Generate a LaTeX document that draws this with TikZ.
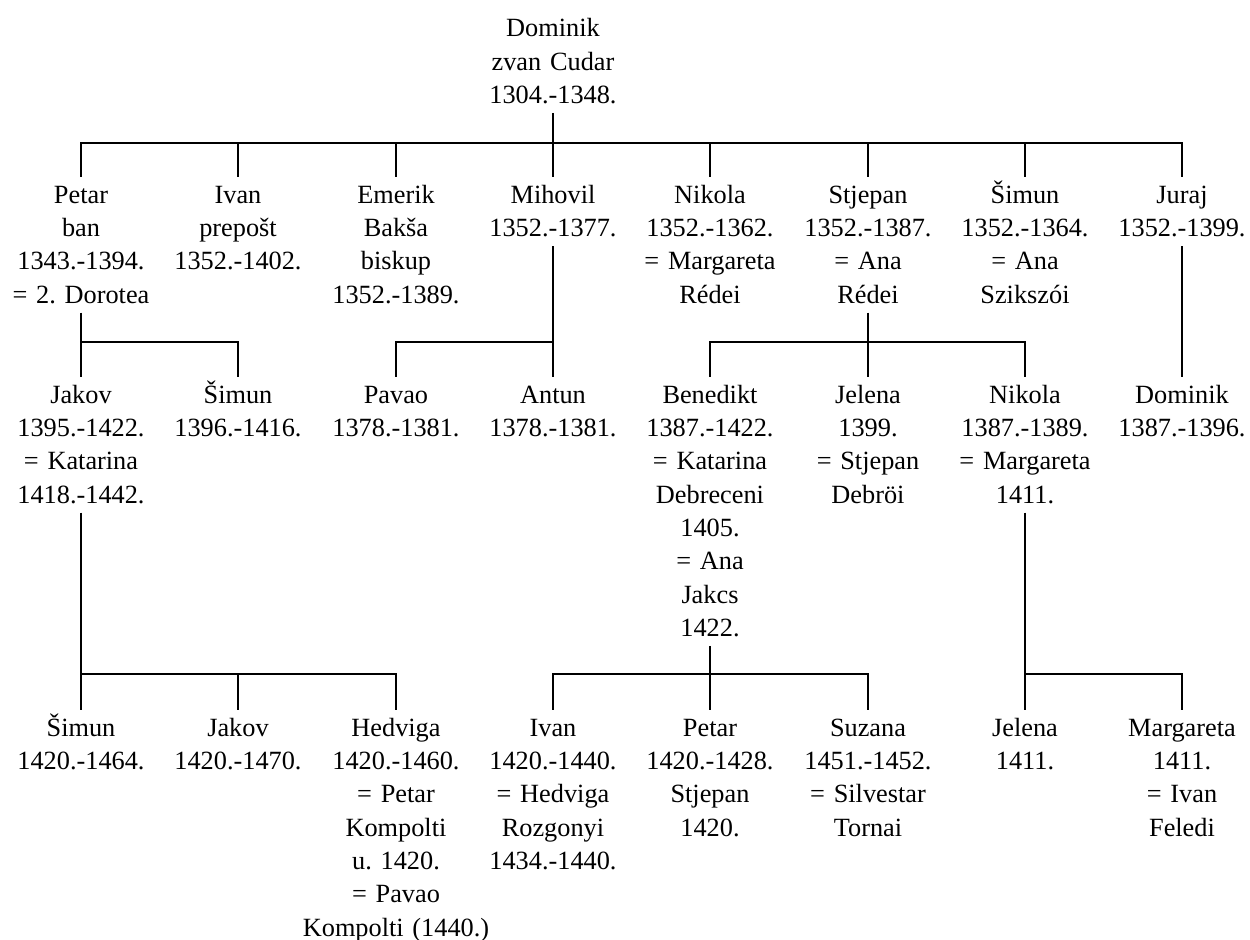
\documentclass[tikz,border=0pt]{standalone}
\usepackage{fontspec}
\setmainfont{Liberation Serif}
\usepackage{tikz}
\usetikzlibrary{positioning, calc}
\frenchspacing

\begin{document}
\begin{tikzpicture}[
    x=0.5pt, y=-0.5pt,
    person/.style={anchor=north, align=center, text width=100pt, inner sep=0pt, font=\fontsize{13.15pt}{16.65pt}\selectfont,
        execute at begin node={\rule{0pt}{13pt}}, execute at end node={\rule[-4.5pt]{0pt}{4.5pt}}},
    link/.style={line width=1pt, color=black}
    ]
    \useasboundingbox (0,0) rectangle (1250,940);

    % Nodes
    \node[person] (dominik) at (553,10.5) {Dominik\\zvan Cudar\\1304.-1348.};

    \node[person] (petar) at (81,177) {Petar\\ban\\1343.-1394.\\= 2. Dorotea};
    \node[person] (ivan) at (238,177) {Ivan\\prepošt\\1352.-1402.};
    \node[person] (emerik) at (396,177) {Emerik\\Bakša\\biskup\\1352.-1389.};
    \node[person] (mihovil) at (553,177) {Mihovil\\1352.-1377.};
    \node[person] (nikola) at (710,177) {Nikola\\1352.-1362.\\= Margareta\\Rédei};
    \node[person] (stjepan) at (868,177) {Stjepan\\1352.-1387.\\= Ana\\Rédei};
    \node[person] (simun) at (1025,177) {Šimun\\1352.-1364.\\= Ana\\Szikszói};
    \node[person] (juraj) at (1182,177) {Juraj\\1352.-1399.};

    \node[person] (jakov) at (81,377) {Jakov\\1395.-1422.\\= Katarina\\1418.-1442.};
    \node[person] (simun2) at (238,377) {Šimun\\1396.-1416.};
    \node[person] (pavao) at (396,377) {Pavao\\1378.-1381.};
    \node[person] (antun) at (553,377) {Antun\\1378.-1381.};
    \node[person] (benedikt) at (710,377) {Benedikt\\1387.-1422.\\= Katarina\\Debreceni\\1405.\\= Ana\\Jakcs\\1422.};
    \node[person] (jelena) at (868,377) {Jelena\\1399.\\= Stjepan\\Debröi};
    \node[person] (nikola2) at (1025,377) {Nikola\\1387.-1389.\\= Margareta\\1411.};
    \node[person] (dominik2) at (1182,377) {Dominik\\1387.-1396.};

    \node[person] (simun3) at (81,710) {Šimun\\1420.-1464.};
    \node[person] (jakov2) at (238,710) {Jakov\\1420.-1470.};
    \node[person] (hedviga) at (396,710) {Hedviga\\1420.-1460.\\= Petar\\Kompolti\\u. 1420.\\= Pavao\\Kompolti (1440.)};
    \node[person] (ivan2) at (553,710) {Ivan\\1420.-1440.\\= Hedviga\\Rozgonyi\\1434.-1440.};
    \node[person] (petar2) at (710,710) {Petar\\1420.-1428.\\Stjepan\\1420.};
    \node[person] (suzana) at (868,710) {Suzana\\1451.-1452.\\= Silvestar\\Tornai};
    \node[person] (jelena2) at (1025,710) {Jelena\\1411.};
    \node[person] (margareta) at (1182,710) {Margareta\\1411.\\= Ivan\\Feledi};

    % Edges
    \coordinate (domBar) at (553,142.7);
    \draw[link] (dominik.south) -- (domBar);
    \foreach \c in {petar, ivan, emerik, mihovil, nikola, stjepan, simun, juraj}
        \draw[link] (domBar) -| (\c.north);

    \coordinate (petBar) at (81,342);
    \draw[link] (petar.south) -- (petBar);
    \foreach \c in {jakov, simun2}
        \draw[link] (petBar) -| (\c.north);

    \coordinate (mihBar) at (553,342);
    \draw[link] (mihovil.south) -- (mihBar);
    \foreach \c in {pavao, antun}
        \draw[link] (mihBar) -| (\c.north);

    \coordinate (stjBar) at (868,342);
    \draw[link] (stjepan.south) -- (stjBar);
    \foreach \c in {benedikt, jelena, nikola2}
        \draw[link] (stjBar) -| (\c.north);

    \draw[link] (juraj.south) -- (dominik2.north);

    \coordinate (jakBar) at (81,674);
    \draw[link] (jakov.south) -- (jakBar);
    \foreach \c in {simun3, jakov2, hedviga}
        \draw[link] (jakBar) -| (\c.north);

    \coordinate (benBar) at (710,674);
    \draw[link] (benedikt.south) -- (benBar);
    \foreach \c in {ivan2, petar2, suzana}
        \draw[link] (benBar) -| (\c.north);

    \coordinate (nikBar) at (1025,674);
    \draw[link] (nikola2.south) -- (nikBar);
    \foreach \c in {jelena2, margareta}
        \draw[link] (nikBar) -| (\c.north);
\end{tikzpicture}
\end{document}
